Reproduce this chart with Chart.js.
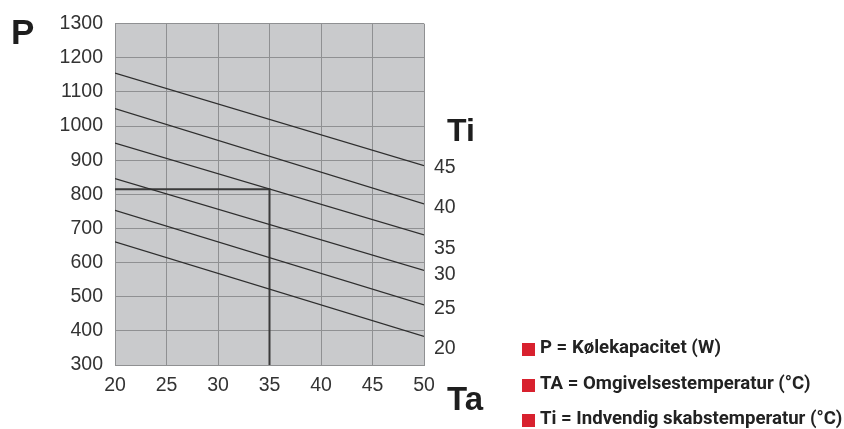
<!DOCTYPE html>
<html lang="da">
<head>
    <meta charset="UTF-8">
    <title>Kølekapacitet</title>
    <script src="https://cdn.jsdelivr.net/npm/chart.js"></script>
    <style>
        body {
            margin: 0;
            background: #fff;
            font-family: "Liberation Sans", Arial, sans-serif;
        }
        #wrap {
            position: relative;
            width: 844px;
            height: 429px;
        }
        .axis-title {
            position: absolute;
            font-weight: bold;
            color: #1e1e1e;
            line-height: 1;
        }
        #legend {
            position: absolute;
            left: 522px;
            top: 336px;
            font-family: Roboto, "Noto Sans", sans-serif;
            font-weight: bold;
            font-size: 18.6px;
            color: #222;
        }
        #legend div {
            height: 35.5px;
            display: flex;
            align-items: flex-start;
            white-space: nowrap;
        }
        #legend span.box {
            display: inline-block;
            width: 13px;
            height: 13px;
            background: #d8212e;
            margin-top: 7px;
            margin-right: 5px;
        }
    </style>
</head>
<body>
<div id="wrap">
    <canvas id="chart" width="844" height="429"></canvas>
    <div class="axis-title" style="left:11px;top:14px;font-size:35px;">P</div>
    <div class="axis-title" style="left:447px;top:114px;font-size:32px;">Ti</div>
    <div class="axis-title" style="left:447px;top:382px;font-size:33px;">Ta</div>
    <div id="legend">
        <div><span class="box"></span>P = Kølekapacitet (W)</div>
        <div><span class="box"></span>TA = Omgivelsestemperatur (°C)</div>
        <div><span class="box"></span>Ti = Indvendig skabstemperatur (°C)</div>
    </div>
</div>

<script>
    // Ta (omgivelsestemperatur) ved kurvernes ender
    const taPoints = [20, 50];
    // kurver for hver Ti, P ved Ta=20 og Ta=50
    const tiCurves = [45, 40, 35, 30, 25, 20];
    const pAt20 = [1155, 1051, 950, 846, 753, 661];
    const pAt50 = [884, 772, 681, 577, 476, 384];
    // eksempel-aflæsning
    const exampleTa = [20, 35, 35];
    const exampleP = [815, 815, 300];
    // Ti-etiketter på højre side (placering i P-enheder)
    const tiLabels = ['45', '40', '35', '30', '25', '20'];
    const tiLabelP = [878, 762, 641, 566, 465, 349];

    const datasets = tiCurves.map((ti, i) => ({
        label: 'Ti ' + ti,
        data: [{x: taPoints[0], y: pAt20[i]}, {x: taPoints[1], y: pAt50[i]}],
        borderColor: '#2e2e2e',
        borderWidth: 1.2,
        pointRadius: 0,
        yAxisID: 'y'
    }));
    datasets.push({
        label: 'eksempel',
        data: exampleTa.map((t, i) => ({x: t, y: exampleP[i]})),
        borderColor: '#3a3a3a',
        borderWidth: 2,
        pointRadius: 0,
        yAxisID: 'y'
    });

    const plotBg = {
        id: 'plotBg',
        beforeDraw(chart) {
            const a = chart.chartArea;
            const ctx = chart.ctx;
            ctx.save();
            ctx.fillStyle = '#c9cacc';
            ctx.fillRect(a.left, a.top, a.right - a.left, a.bottom - a.top);
            ctx.restore();
        }
    };

    const tickFont = {family: '"Liberation Sans", Arial, sans-serif', size: 19.5};

    new Chart(document.getElementById('chart'), {
        type: 'line',
        data: {datasets: datasets},
        options: {
            responsive: false,
            animation: false,
            layout: {padding: {top: 19, left: 0, right: 0, bottom: 0}},
            plugins: {legend: {display: false}, tooltip: {enabled: false}},
            scales: {
                x: {
                    type: 'linear',
                    min: 20,
                    max: 50,
                    ticks: {stepSize: 5, color: '#333', font: tickFont, padding: 9},
                    grid: {color: '#8f9092', lineWidth: 1, drawTicks: false},
                    border: {color: '#8f9092'},
                    afterFit(s) { s.height = 64; }
                },
                y: {
                    position: 'left',
                    min: 300,
                    max: 1300,
                    ticks: {
                        stepSize: 100,
                        color: '#333',
                        font: tickFont,
                        padding: 12,
                        callback: v => String(v)
                    },
                    grid: {color: '#8f9092', lineWidth: 1, drawTicks: false},
                    border: {color: '#8f9092'},
                    afterFit(s) { s.width = 115; }
                },
                ti: {
                    position: 'right',
                    min: 300,
                    max: 1300,
                    afterBuildTicks(s) { s.ticks = tiLabelP.map(v => ({value: v})); },
                    ticks: {
                        color: '#333',
                        font: tickFont,
                        padding: 10,
                        callback: (v, i) => tiLabels[i]
                    },
                    grid: {display: false, drawTicks: false},
                    border: {display: false},
                    afterFit(s) { s.width = 420; }
                }
            }
        },
        plugins: [plotBg]
    });
</script>
</body>
</html>
